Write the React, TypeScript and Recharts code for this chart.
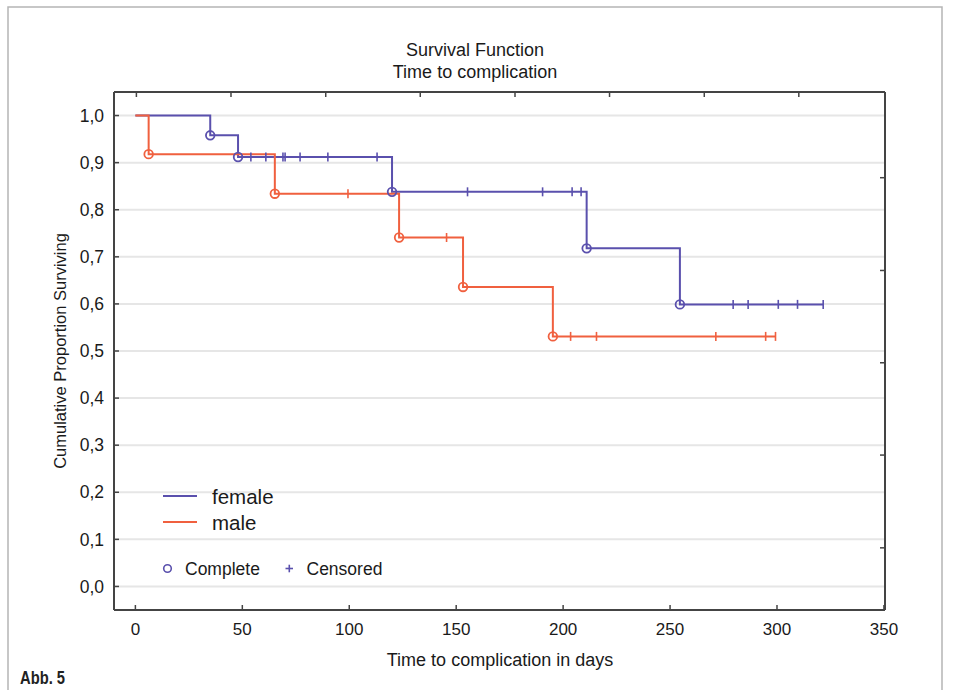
import React from 'react';
import { ComposedChart, Line, Scatter, XAxis, YAxis, CartesianGrid } from 'recharts';

// ---- data ----
const FEMALE_EVENT_TIMES = [35, 48, 120, 211, 254.6];
const FEMALE_EVENT_SURV = [0.958, 0.912, 0.838, 0.718, 0.599];
const FEMALE_CENSOR_TIMES = [54, 61, 69, 70, 77, 90, 113, 155.3, 190.4, 204.2, 208.4, 279.5, 286.5, 300.6, 309.6, 321.6];

const MALE_EVENT_TIMES = [6.2, 65.2, 123.3, 153.2, 195.2];
const MALE_EVENT_SURV = [0.918, 0.834, 0.741, 0.636, 0.531];
const MALE_CENSOR_TIMES = [99.4, 145.5, 203.5, 215.6, 271.4, 294.7, 299.3];

const X_TICKS = [0, 50, 100, 150, 200, 250, 300, 350];
const Y_TICKS = [0, 0.1, 0.2, 0.3, 0.4, 0.5, 0.6, 0.7, 0.8, 0.9, 1.0];
const TOP_TICKS = [0.47, 44.7, 89.0, 133.2, 177.5, 221.7, 266.0, 310.2];
const RIGHT_TICKS = [0.082, 0.279, 0.475, 0.671, 0.868];

const TITLE_LINES = ['Survival Function', 'Time to complication'];
const X_LABEL = 'Time to complication in days';
const Y_LABEL = 'Cumulative Proportion Surviving';
const SERIES_NAMES = ['female', 'male'];

const FEMALE_COLOR = '#5a50ad';
const MALE_COLOR = '#f0603f';
const FONT = "'Liberation Sans', Arial, Helvetica, sans-serif";

function survivalAt(times: number[], surv: number[], t: number): number {
  let s = 1;
  for (let i = 0; i < times.length; i++) if (times[i] <= t) s = surv[i];
  return s;
}

function buildLine(times: number[], surv: number[], censor: number[]) {
  const pts = [{ t: 0, s: 1 }];
  times.forEach((t, i) => pts.push({ t, s: surv[i] }));
  const last = Math.max(...censor, ...times);
  pts.push({ t: last, s: survivalAt(times, surv, last) });
  return pts;
}
const buildEvents = (times: number[], surv: number[]) => times.map((t, i) => ({ t, s: surv[i] }));
const buildCensor = (times: number[], surv: number[], censor: number[]) =>
  censor.map((t) => ({ t, s: survivalAt(times, surv, t) }));

const femaleLine = buildLine(FEMALE_EVENT_TIMES, FEMALE_EVENT_SURV, FEMALE_CENSOR_TIMES);
const maleLine = buildLine(MALE_EVENT_TIMES, MALE_EVENT_SURV, MALE_CENSOR_TIMES);
const femaleEvents = buildEvents(FEMALE_EVENT_TIMES, FEMALE_EVENT_SURV);
const maleEvents = buildEvents(MALE_EVENT_TIMES, MALE_EVENT_SURV);
const femaleCensor = buildCensor(FEMALE_EVENT_TIMES, FEMALE_EVENT_SURV, FEMALE_CENSOR_TIMES);
const maleCensor = buildCensor(MALE_EVENT_TIMES, MALE_EVENT_SURV, MALE_CENSOR_TIMES);

const circleShape = (color: string) => (props: any) => (
  <circle cx={props.cx} cy={props.cy} r={4.3} fill="none" stroke={color} strokeWidth={1.8} />
);
const tickShape = (color: string) => (props: any) => (
  <line x1={props.cx} y1={props.cy - 4.5} x2={props.cx} y2={props.cy + 4.5} stroke={color} strokeWidth={1.6} />
);

const fmtY = (v: number) => v.toFixed(1).replace('.', ',');
const blank = () => '';

export default function App() {
  return (
    <div style={{ position: 'absolute', left: 0, top: 0, width: 954, height: 690, background: '#fff', overflow: 'hidden' }}>
      <div style={{ position: 'absolute', left: 0, top: 0 }}>
        <ComposedChart width={954} height={690} margin={{ top: 82, right: 59, bottom: 50, left: 54 }}>
          <CartesianGrid horizontal vertical={false} stroke="#e6e6e6" strokeWidth={2} />
          <XAxis
            dataKey="t"
            type="number"
            domain={[-10, 350.5]}
            ticks={X_TICKS}
            interval={0}
            allowDataOverflow
            height={30}
            tickSize={-5}
            tickMargin={18}
            axisLine={{ stroke: '#444', strokeWidth: 2 }}
            tickLine={{ stroke: '#444', strokeWidth: 1.5 }}
            tick={{ fill: '#1a1a1a', fontSize: 17, fontFamily: FONT }}
          />
          <XAxis
            xAxisId="top"
            orientation="top"
            dataKey="t"
            type="number"
            domain={[-10, 350.5]}
            ticks={TOP_TICKS}
            interval={0}
            allowDataOverflow
            height={10}
            tickSize={-5}
            tickMargin={0}
            tickFormatter={blank}
            axisLine={{ stroke: '#444', strokeWidth: 2 }}
            tickLine={{ stroke: '#444', strokeWidth: 1.5 }}
          />
          <YAxis
            type="number"
            domain={[-0.05, 1.05]}
            ticks={Y_TICKS}
            interval={0}
            allowDataOverflow
            width={60}
            tickSize={-5}
            tickMargin={15}
            tickFormatter={fmtY}
            axisLine={{ stroke: '#444', strokeWidth: 2 }}
            tickLine={{ stroke: '#444', strokeWidth: 1.5 }}
            tick={{ fill: '#1a1a1a', fontSize: 17.5, fontFamily: FONT }}
          />
          <YAxis
            yAxisId="right"
            orientation="right"
            type="number"
            domain={[-0.05, 1.05]}
            ticks={RIGHT_TICKS}
            interval={0}
            allowDataOverflow
            width={10}
            tickSize={-5}
            tickMargin={0}
            tickFormatter={blank}
            axisLine={{ stroke: '#444', strokeWidth: 2 }}
            tickLine={{ stroke: '#444', strokeWidth: 1.5 }}
          />
          <Line data={femaleLine} dataKey="s" type="stepAfter" stroke={FEMALE_COLOR} strokeWidth={2} dot={false} activeDot={false} isAnimationActive={false} />
          <Line data={maleLine} dataKey="s" type="stepAfter" stroke={MALE_COLOR} strokeWidth={2} dot={false} activeDot={false} isAnimationActive={false} />
          <Scatter data={femaleCensor} dataKey="s" shape={tickShape(FEMALE_COLOR)} isAnimationActive={false} />
          <Scatter data={maleCensor} dataKey="s" shape={tickShape(MALE_COLOR)} isAnimationActive={false} />
          <Scatter data={femaleEvents} dataKey="s" shape={circleShape(FEMALE_COLOR)} isAnimationActive={false} />
          <Scatter data={maleEvents} dataKey="s" shape={circleShape(MALE_COLOR)} isAnimationActive={false} />
        </ComposedChart>
      </div>
      <svg width={954} height={690} style={{ position: 'absolute', left: 0, top: 0, pointerEvents: 'none' }}>
        <rect x={8} y={7} width={934} height={700} fill="none" stroke="#b5b5b5" strokeWidth={1.5} />
        <text x={475} y={55.5} textAnchor="middle" fontFamily={FONT} fontSize={18} fill="#1a1a1a">{TITLE_LINES[0]}</text>
        <text x={475} y={78} textAnchor="middle" fontFamily={FONT} fontSize={18} fill="#1a1a1a">{TITLE_LINES[1]}</text>
        <text x={500} y={666} textAnchor="middle" fontFamily={FONT} fontSize={18} fill="#1a1a1a">{X_LABEL}</text>
        <text x={66} y={351} textAnchor="middle" fontFamily={FONT} fontSize={16.5} fill="#1a1a1a" transform="rotate(-90 66 351)">{Y_LABEL}</text>
        {/* legend */}
        <line x1={163} y1={496} x2={197} y2={496} stroke={FEMALE_COLOR} strokeWidth={2} />
        <text x={212} y={504} fontFamily={FONT} fontSize={20.5} fill="#1a1a1a">{SERIES_NAMES[0]}</text>
        <line x1={163} y1={522} x2={197} y2={522} stroke={MALE_COLOR} strokeWidth={2} />
        <text x={212} y={529.5} fontFamily={FONT} fontSize={20.5} fill="#1a1a1a">{SERIES_NAMES[1]}</text>
        <circle cx={167.5} cy={568.5} r={3.8} fill="none" stroke={FEMALE_COLOR} strokeWidth={1.6} />
        <text x={185} y={574.5} fontFamily={FONT} fontSize={17.5} fill="#1a1a1a">Complete</text>
        <line x1={285.5} y1={568.5} x2={293} y2={568.5} stroke={FEMALE_COLOR} strokeWidth={1.6} />
        <line x1={289.3} y1={564.7} x2={289.3} y2={572.3} stroke={FEMALE_COLOR} strokeWidth={1.6} />
        <text x={306.5} y={574.5} fontFamily={FONT} fontSize={17.5} fill="#1a1a1a">Censored</text>
        <text x={20} y={684} fontFamily={FONT} fontWeight="bold" fontSize={18.5} textLength={45} lengthAdjust="spacingAndGlyphs" fill="#222">Abb. 5</text>
      </svg>
    </div>
  );
}
